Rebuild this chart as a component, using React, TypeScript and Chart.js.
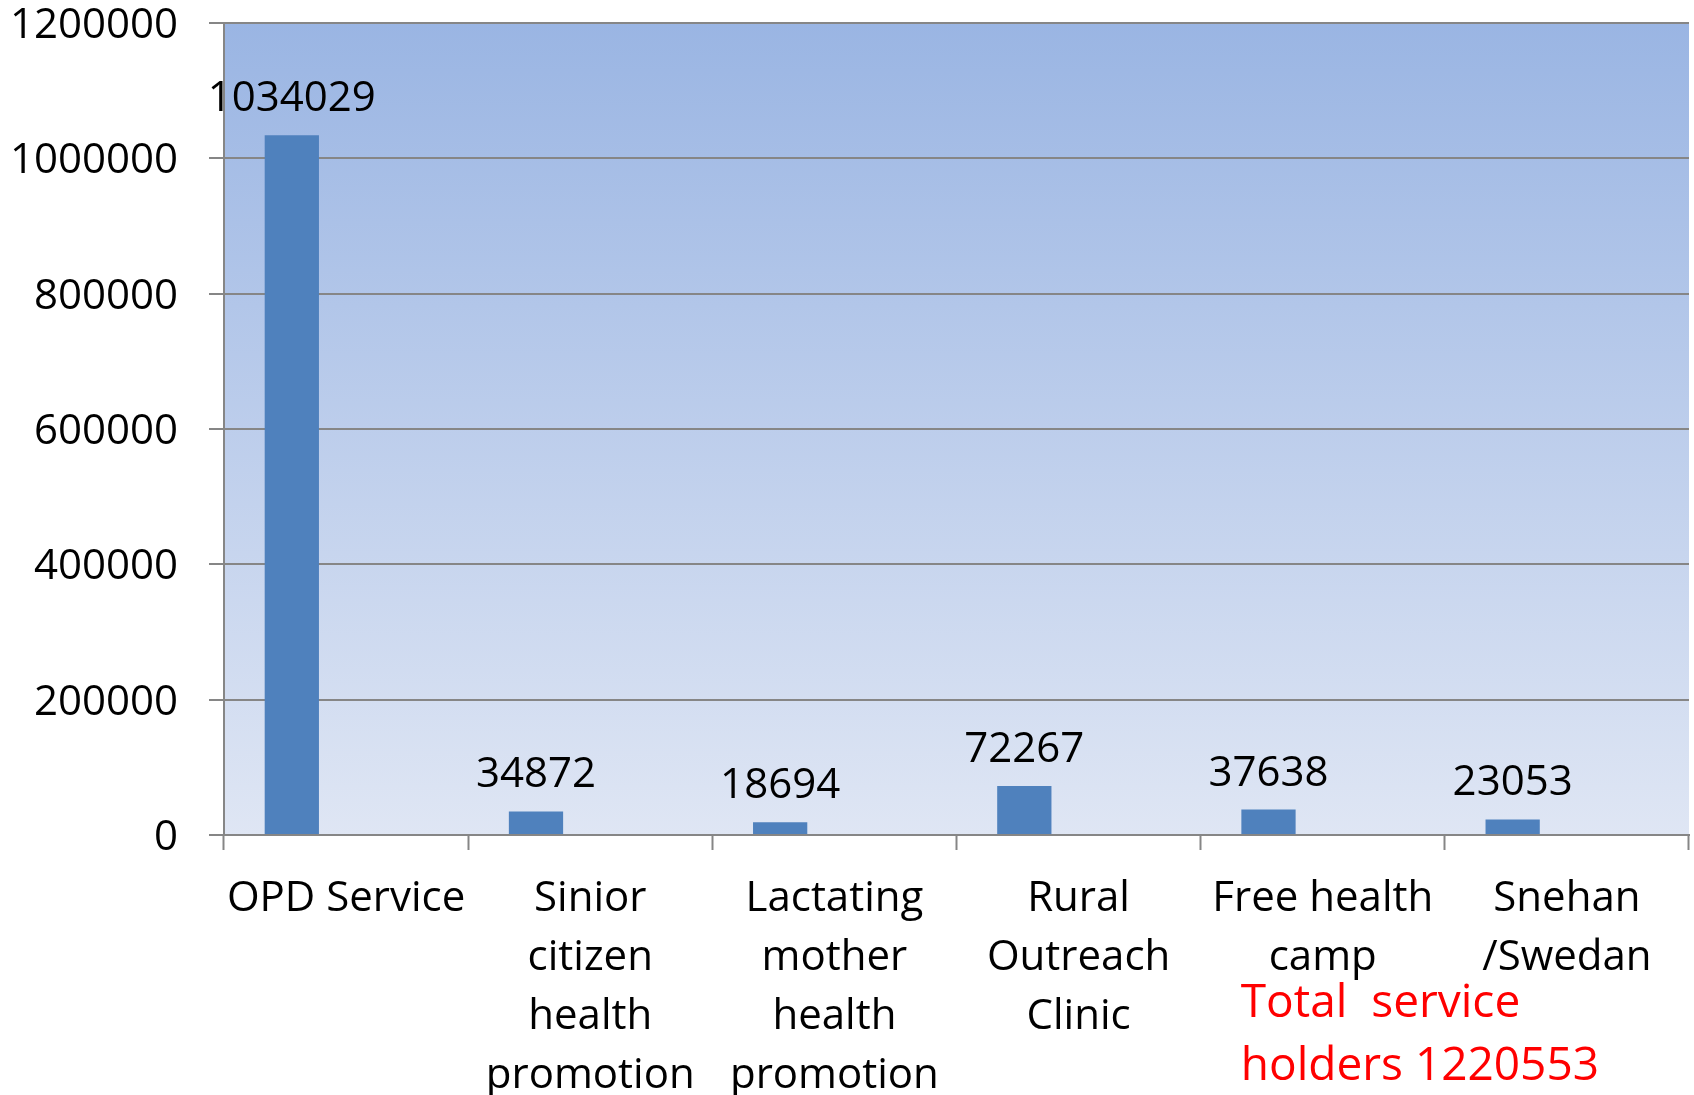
import React, { useEffect, useRef } from "react";
import { Chart, registerables } from "chart.js";

Chart.register(...registerables);

const categories: string[][] = [
  ["OPD Service"],
  ["Sinior", "citizen", "health", "promotion"],
  ["Lactating", "mother", "health", "promotion"],
  ["Rural", "Outreach", "Clinic"],
  ["Free health", "camp"],
  ["Snehan", "/Swedan"],
];
const serviceHolders: number[] = [1034029, 34872, 18694, 72267, 37638, 23053];
// the original sheet had two further (empty) series that take up space in each group
const emptySeriesA: (number | null)[] = [null, null, null, null, null, null];
const emptySeriesB: (number | null)[] = [null, null, null, null, null, null];
const yTicks: number[] = [0, 200000, 400000, 600000, 800000, 1000000, 1200000];
const totalNote: string[] = ["Total  service", "holders 1220553"];

const FONT = "'Open Sans', 'DejaVu Sans', sans-serif";

const bgPlugin = {
  id: "plotBg",
  beforeDraw(chart: any) {
    const { ctx, chartArea } = chart;
    if (!chartArea) return;
    const g = ctx.createLinearGradient(0, chartArea.top, 0, chartArea.bottom);
    g.addColorStop(0, "#9AB5E3");
    g.addColorStop(1, "#DFE6F4");
    ctx.save();
    ctx.fillStyle = g;
    ctx.fillRect(chartArea.left, chartArea.top, chartArea.right - chartArea.left, chartArea.bottom - chartArea.top);
    ctx.restore();
  },
};

const labelPlugin = {
  id: "barLabels",
  afterDatasetsDraw(chart: any) {
    const { ctx } = chart;
    const meta = chart.getDatasetMeta(0);
    ctx.save();
    ctx.font = `42px ${FONT}`;
    ctx.fillStyle = "#000000";
    ctx.textAlign = "center";
    ctx.textBaseline = "alphabetic";
    meta.data.forEach((bar: any, i: number) => {
      const v = serviceHolders[i];
      ctx.fillText(String(v), bar.x, bar.y - 24);
    });
    ctx.restore();
  },
  afterDraw(chart: any) {
    const { ctx } = chart;
    const xs = chart.scales.x;
    const x = xs.getPixelForValue(4) - 82;
    ctx.save();
    ctx.font = `46px ${FONT}`;
    ctx.fillStyle = "#FF0000";
    ctx.textAlign = "left";
    ctx.textBaseline = "alphabetic";
    ctx.fillText(totalNote[0], x, chart.chartArea.bottom + 182);
    ctx.fillText(totalNote[1], x, chart.chartArea.bottom + 245);
    ctx.restore();
  },
};

export default function App() {
  const ref = useRef<HTMLCanvasElement | null>(null);
  useEffect(() => {
    if (!ref.current) return;
    const chart = new Chart(ref.current, {
      type: "bar",
      data: {
        labels: categories,
        datasets: [
          { data: serviceHolders, backgroundColor: "#4F81BD", borderWidth: 0 },
          { data: emptySeriesA, backgroundColor: "#C0504D" },
          { data: emptySeriesB, backgroundColor: "#9BBB59" },
        ],
      },
      options: {
        responsive: false,
        animation: false,
        devicePixelRatio: 1,
        layout: { padding: { top: 0, right: 5, bottom: 0, left: 0 } },
        datasets: { bar: { categoryPercentage: 3 / 4.5, barPercentage: 1 } },
        plugins: { legend: { display: false }, tooltip: { enabled: false } },
        scales: {
          x: {
            offset: true,
            grid: {
              offset: true,
              drawOnChartArea: false,
              drawTicks: true,
              tickLength: 15,
              tickWidth: 2,
              tickColor: "#868686",
            },
            border: { display: true, color: "#868686", width: 2 },
            ticks: {
              color: "#000000",
              font: { family: FONT, size: 42, lineHeight: 1.4 },
              padding: 20,
              maxRotation: 0,
              minRotation: 0,
              autoSkip: false,
            },
            afterFit(scale: any) {
              scale.height = 260;
            },
          },
          y: {
            min: 0,
            max: 1200000,
            afterBuildTicks(scale: any) {
              scale.ticks = yTicks.map((v) => ({ value: v }));
            },
            grid: {
              color: "#868686",
              lineWidth: 2,
              drawTicks: true,
              tickLength: 15,
            },
            border: { display: true, color: "#868686", width: 2 },
            ticks: {
              color: "#000000",
              font: { family: FONT, size: 42, lineHeight: 1.1 },
              padding: 31,
              labelOffset: 3,
              callback: (v: any) => String(v),
            },
            afterFit(scale: any) {
              scale.width = 224;
              scale.paddingTop = 23;
              scale.paddingBottom = 0;
            },
          },
        },
      },
      plugins: [bgPlugin, labelPlugin],
    });
    return () => chart.destroy();
  }, []);
  return (
    <div style={{ position: "fixed", left: 0, top: 0, width: 1694, height: 1095, background: "#ffffff" }}>
      <canvas ref={ref} width={1694} height={1095} style={{ display: "block" }} />
    </div>
  );
}
